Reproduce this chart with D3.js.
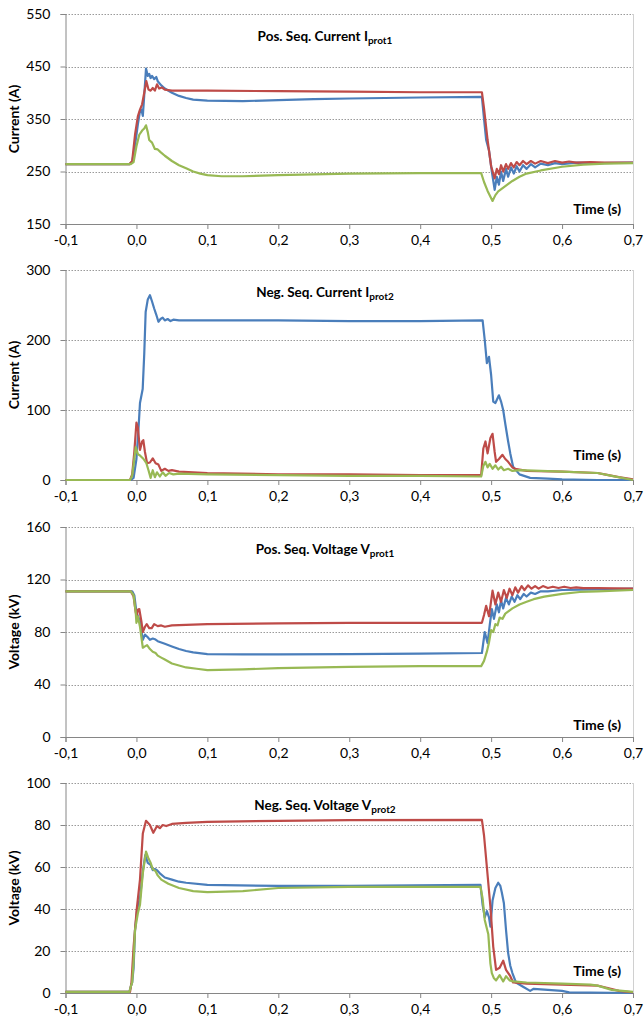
<html>

<head>
  <title>Sequence currents and voltages</title>
  <script src="https://d3js.org/d3.v7.min.js"></script>
  <style>
    body { margin: 0; background: white; }
    text { font-family: Lato, "Open Sans", sans-serif; fill: #000; }
    .title, .ylab, .xlab { font-weight: bold; }
  </style>
</head>

<body>
  <svg id="chart" width="644" height="1019"></svg>

  <script>
    // time axis ticks shared by every panel
    let xTicks = [-0.1, 0, 0.1, 0.2, 0.3, 0.4, 0.5, 0.6, 0.7];

    // panel 1: positive sequence current (A), pairs of [time, value]
    let posCurBlue = [[-0.1,264],[-0.01,264],[-0.006,268],[-0.002,300],[0.002,340],[0.005,365],[0.007,368],[0.009,356],[0.011,395],[0.0135,446],[0.016,432],[0.018,436],[0.02,428],[0.022,432],[0.025,426],[0.028,430],[0.03,422],[0.035,414],[0.04,408],[0.05,400],[0.06,394],[0.07,390],[0.08,387],[0.1,385],[0.15,384],[0.2,386],[0.25,388],[0.3,389],[0.35,390],[0.4,391],[0.487,392],[0.49,350],[0.493,310],[0.497,290],[0.501,250],[0.505,215],[0.508,240],[0.511,225],[0.514,250],[0.517,232],[0.521,255],[0.524,240],[0.528,258],[0.532,246],[0.536,260],[0.54,250],[0.545,262],[0.55,255],[0.556,264],[0.562,258],[0.57,265],[0.58,262],[0.59,266],[0.6,264],[0.62,267],[0.65,266],[0.7,267]];
    let posCurRed = [[-0.1,264],[-0.01,264],[-0.006,270],[-0.002,320],[0.002,355],[0.005,368],[0.008,378],[0.011,400],[0.014,422],[0.017,406],[0.02,404],[0.023,409],[0.026,404],[0.029,416],[0.032,408],[0.036,410],[0.04,406],[0.05,404],[0.1,404],[0.2,403],[0.3,402],[0.4,401],[0.487,401],[0.49,370],[0.495,310],[0.5,260],[0.505,237],[0.508,255],[0.511,245],[0.514,262],[0.517,250],[0.521,264],[0.524,255],[0.528,266],[0.532,258],[0.536,268],[0.54,262],[0.545,270],[0.55,264],[0.556,270],[0.562,265],[0.57,270],[0.58,266],[0.59,270],[0.6,267],[0.61,269],[0.62,267],[0.64,268],[0.66,267],[0.7,267]];
    let posCurGreen = [[-0.1,264],[-0.008,264],[-0.004,268],[0,298],[0.004,320],[0.008,328],[0.011,332],[0.0135,338],[0.016,325],[0.018,310],[0.022,305],[0.026,293],[0.03,292],[0.034,287],[0.04,280],[0.05,270],[0.06,262],[0.07,256],[0.08,250],[0.09,246],[0.1,243],[0.12,241],[0.15,241],[0.2,243],[0.3,246],[0.4,247],[0.486,247],[0.49,230],[0.495,213],[0.502,194],[0.506,205],[0.51,212],[0.52,222],[0.53,232],[0.54,240],[0.55,246],[0.57,252],[0.6,259],[0.63,263],[0.66,265],[0.7,266]];

    // panel 2: negative sequence current (A)
    let negCurBlue = [[-0.1,0],[-0.008,0],[-0.004,3],[0,30],[0.003,75],[0.005,110],[0.0088,130],[0.011,180],[0.013,240],[0.016,258],[0.019,264],[0.022,255],[0.025,245],[0.028,236],[0.031,226],[0.034,230],[0.037,232],[0.04,228],[0.044,230],[0.048,227],[0.052,229],[0.06,228],[0.1,228],[0.2,228],[0.3,227],[0.4,227],[0.488,228],[0.491,200],[0.494,167],[0.497,176],[0.5,150],[0.503,112],[0.506,110],[0.511,121],[0.514,112],[0.517,100],[0.52,80],[0.524,55],[0.527,38],[0.531,19],[0.54,8],[0.555,3],[0.58,2],[0.6,1],[0.65,0],[0.7,0]];
    let negCurRed = [[-0.1,0],[-0.009,0],[-0.006,8],[-0.003,40],[0,82],[0.002,75],[0.005,43],[0.008,55],[0.0097,57],[0.012,40],[0.015,24],[0.019,25],[0.023,31],[0.027,24],[0.031,22],[0.035,13],[0.04,16],[0.045,13],[0.05,14],[0.06,12],[0.1,10],[0.2,8],[0.3,8],[0.4,7],[0.486,7],[0.489,45],[0.492,55],[0.495,38],[0.499,60],[0.502,66],[0.505,40],[0.507,26],[0.511,30],[0.516,36],[0.52,30],[0.524,26],[0.53,18],[0.534,16],[0.55,13],[0.6,12],[0.65,10],[0.66,8],[0.68,4],[0.7,1]];
    let negCurGreen = [[-0.1,0],[-0.009,0],[-0.006,6],[-0.003,30],[-0.001,47],[0.002,37],[0.005,35],[0.01,30],[0.014,24],[0.017,14],[0.02,3],[0.023,14],[0.026,4],[0.029,11],[0.033,5],[0.037,11],[0.041,6],[0.046,10],[0.052,8],[0.06,9],[0.1,8],[0.2,7],[0.3,6],[0.4,6],[0.486,5],[0.489,20],[0.492,26],[0.495,18],[0.498,23],[0.502,16],[0.506,21],[0.51,15],[0.514,19],[0.518,14],[0.524,16],[0.53,13],[0.54,14],[0.6,12],[0.65,10],[0.67,6],[0.7,0]];

    // panel 3: positive sequence voltage (kV)
    let posVoltBlue = [[-0.1,111],[-0.006,111],[-0.003,108],[0,95],[0.005,88],[0.009,74],[0.012,78],[0.016,76],[0.019,74],[0.023,75],[0.026,74.5],[0.03,73],[0.04,71],[0.05,69],[0.06,67],[0.07,65.5],[0.08,64.5],[0.1,63.2],[0.15,63],[0.2,63],[0.3,63.2],[0.4,63.5],[0.487,64],[0.491,80],[0.495,71.6],[0.498,85],[0.501,97.5],[0.504,90],[0.508,101],[0.511,95],[0.514,104],[0.517,98],[0.521,106],[0.525,101],[0.529,107],[0.533,103],[0.537,108],[0.541,105],[0.546,109],[0.55,107],[0.556,110],[0.562,109],[0.57,111],[0.58,111],[0.6,112],[0.65,112.5],[0.7,113]];
    let posVoltRed = [[-0.1,111],[-0.008,111],[-0.004,107],[-0.001,95],[0.0003,92],[0.002,97],[0.004,97.5],[0.007,88],[0.009,80],[0.012,84],[0.0145,86],[0.018,83],[0.0215,83],[0.025,86],[0.03,84.5],[0.035,85],[0.04,84],[0.05,85],[0.07,85.5],[0.1,86],[0.2,86.5],[0.3,87],[0.487,87],[0.49,93],[0.493,100],[0.497,92],[0.502,111.5],[0.506,101],[0.51,110],[0.514,103],[0.518,112],[0.522,106],[0.526,113],[0.53,108],[0.534,114],[0.538,110],[0.543,115],[0.547,112],[0.552,115.5],[0.557,113],[0.562,115],[0.567,113],[0.573,115],[0.58,113.5],[0.587,114.5],[0.595,113.5],[0.603,114.5],[0.612,113.5],[0.62,114],[0.63,113.5],[0.65,113.5],[0.7,113]];
    let posVoltGreen = [[-0.1,111],[-0.008,111],[-0.004,108],[-0.001,95],[0,87],[0.002,92],[0.005,84],[0.009,68],[0.012,69],[0.015,70],[0.019,67],[0.023,65],[0.027,64],[0.03,62],[0.035,60.5],[0.04,59],[0.05,56],[0.06,54.5],[0.07,53],[0.085,52],[0.1,51],[0.15,51.5],[0.2,52.5],[0.3,53.5],[0.4,54],[0.486,54],[0.49,58],[0.494,65],[0.497,72],[0.5,81.5],[0.503,80],[0.506,86],[0.509,85],[0.512,91],[0.516,90],[0.52,94],[0.53,98],[0.54,101],[0.55,103],[0.56,105],[0.575,107],[0.6,109],[0.625,110.5],[0.65,111],[0.7,112]];

    // panel 4: negative sequence voltage (kV)
    let negVoltBlue = [[-0.1,0.5],[-0.01,0.5],[-0.008,3],[-0.006,5],[-0.004,12],[-0.002,30],[0.001,40],[0.005,45],[0.009,58],[0.0125,65.7],[0.016,62],[0.02,61],[0.023,58.5],[0.026,59],[0.029,58.5],[0.033,57],[0.04,55],[0.05,54],[0.06,53],[0.07,52.5],[0.1,51.5],[0.2,51],[0.3,51],[0.485,51.5],[0.488,42],[0.491,36],[0.494,39],[0.497,36],[0.499,31.6],[0.502,44],[0.506,50],[0.51,52.5],[0.513,51],[0.515,48],[0.518,42.7],[0.521,30],[0.524,19],[0.527,13],[0.53,9.5],[0.535,5],[0.545,3],[0.555,1],[0.56,2],[0.58,1.5],[0.6,1],[0.61,0.3],[0.7,0]];
    let negVoltRed = [[-0.1,0.5],[-0.009,0.5],[-0.007,5],[-0.004,22],[0.0003,39.5],[0.005,54],[0.009,76],[0.0135,82],[0.019,80],[0.0238,76.3],[0.029,79.5],[0.033,78.5],[0.037,80],[0.042,79.5],[0.05,80.5],[0.07,81],[0.1,81.5],[0.2,82],[0.3,82.3],[0.487,82.4],[0.49,75],[0.494,60],[0.499,41],[0.503,22],[0.507,11],[0.512,12],[0.517,15.4],[0.521,11],[0.527,8],[0.531,5],[0.55,4.5],[0.6,4],[0.65,3.5],[0.663,2.5],[0.68,1],[0.7,0.3]];
    let negVoltGreen = [[-0.1,0.5],[-0.01,0.5],[-0.008,3],[-0.006,5],[-0.004,15],[-0.002,30],[0.002,38],[0.005,42],[0.009,57],[0.0135,67.3],[0.017,64],[0.02,62],[0.023,59],[0.027,58],[0.03,56],[0.035,54],[0.045,52],[0.06,50],[0.08,48.5],[0.1,48],[0.15,48.5],[0.2,50],[0.3,50.5],[0.485,50.5],[0.488,45],[0.491,34.8],[0.496,28],[0.499,14],[0.501,9.5],[0.504,7],[0.507,6],[0.512,8.5],[0.517,5.5],[0.521,8],[0.526,6],[0.531,5.5],[0.55,5],[0.6,4.5],[0.64,4],[0.65,3.5],[0.67,1.5],[0.7,0.5]];

    let colors = ["#4A7EBB", "#BE4B48", "#98B954"]; // blue, red, green

    let panels = [
      { title: "Pos. Seq. Current I", sub: "prot1", ylab: "Current (A)", top: 14, yMin: 150, yMax: 550, yTicks: [150, 250, 350, 450, 550],
        series: [posCurBlue, posCurRed, posCurGreen], timeY: 214 },
      { title: "Neg. Seq. Current I", sub: "prot2", ylab: "Current (A)", top: 270, yMin: 0, yMax: 300, yTicks: [0, 100, 200, 300],
        series: [negCurBlue, negCurRed, negCurGreen], timeY: 460 },
      { title: "Pos. Seq. Voltage V", sub: "prot1", ylab: "Voltage (kV)", top: 527, yMin: 0, yMax: 160, yTicks: [0, 40, 80, 120, 160],
        series: [posVoltBlue, posVoltRed, posVoltGreen], timeY: 730 },
      { title: "Neg. Seq. Voltage V", sub: "prot2", ylab: "Voltage (kV)", top: 783, yMin: 0, yMax: 100, yTicks: [0, 20, 40, 60, 80, 100],
        series: [negVoltBlue, negVoltRed, negVoltGreen], timeY: 976 }
    ];

    let svg = d3.select("#chart");
    let left = 65.5, right = 633, plotH = 210;

    let x = d3.scaleLinear().domain([-0.1, 0.7]).range([left, right]);

    panels.forEach((p) => {
      let bottom = p.top + plotH;
      let y = d3.scaleLinear().domain([p.yMin, p.yMax]).range([bottom, p.top]);

      // dotted gridlines (skip the bottom one, that's the axis)
      svg.append("g").selectAll("line")
        .data(p.yTicks.filter(d => d != p.yMin))
        .join("line")
        .attr("x1", left).attr("x2", right)
        .attr("y1", d => Math.round(y(d)) + 0.5).attr("y2", d => Math.round(y(d)) + 0.5)
        .style("stroke", "#9a9a9a")
        .style("stroke-dasharray", "1.5,1.5");

      // right border
      svg.append("line")
        .attr("x1", right + 0.5).attr("x2", right + 0.5)
        .attr("y1", p.top).attr("y2", bottom)
        .style("stroke", "#d0d0d0");

      // y axis
      let yAxis = svg.append("g")
        .attr("transform", `translate(${left},0)`)
        .call(d3.axisLeft(y).tickValues(p.yTicks).tickSize(5).tickPadding(10).tickFormat(d3.format("d")));

      // x axis
      let xAxis = svg.append("g")
        .attr("transform", `translate(0,${bottom})`)
        .call(d3.axisBottom(x).tickValues(xTicks).tickSize(5).tickPadding(6)
          .tickFormat(d => d3.format(".1f")(d).replace(".", ",").replace("−", "-")));

      [yAxis, xAxis].forEach(a => {
        a.select(".domain").style("stroke", "#868686");
        a.selectAll(".tick line").style("stroke", "#868686");
        a.selectAll(".tick text").style("font-family", "Lato, sans-serif").style("font-size", "14px").style("fill", "#000");
      });

      // the lines
      let line = d3.line().x(d => x(d[0])).y(d => y(d[1]));
      p.series.forEach((s, i) => {
        svg.append("path")
          .datum(s)
          .attr("d", line)
          .style("fill", "none")
          .style("stroke", colors[i])
          .style("stroke-width", 2.2)
          .style("stroke-linejoin", "round");
      });

      // panel title with subscript
      let t = svg.append("text")
        .attr("class", "title")
        .attr("x", 325)
        .attr("y", p.top + 27)
        .attr("text-anchor", "middle")
        .style("font-size", "13.5px");
      t.append("tspan").text(p.title);
      t.append("tspan").text(p.sub).attr("dy", 3).style("font-size", "10px");

      // y label
      svg.append("text")
        .attr("class", "ylab")
        .attr("transform", `translate(19,${p.top + plotH / 2}) rotate(-90)`)
        .attr("text-anchor", "middle")
        .style("font-size", "14px")
        .text(p.ylab);

      // Time (s)
      svg.append("text")
        .attr("class", "xlab")
        .attr("x", 621)
        .attr("y", p.timeY)
        .attr("text-anchor", "end")
        .style("font-size", "14px")
        .text("Time (s)");
    });
  </script>
</body>

</html>
